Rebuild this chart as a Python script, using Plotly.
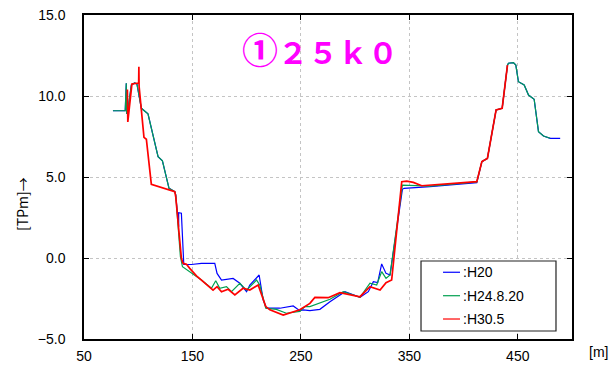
import plotly.graph_objects as go

# Cross-section survey profiles (distance [m] vs elevation [TPm])
h20_x = [76.7, 88.0, 89.0, 89.3, 90.5, 93.7, 96.7, 98.8, 102.9, 109.0, 118.3, 122.3,
         128.4, 133.7, 134.6, 137.3, 137.3, 139.8, 142.0, 149.0, 158.3, 170.6, 172.7,
         176.8, 187.5, 193.7, 199.9, 202.9, 211.5, 215.2, 218.3, 230.6, 242.9, 249.0,
         252.1, 258.3, 267.5, 276.8, 290.6, 304.5, 312.2, 316.8, 320.8, 324.5, 328.5,
         332.2, 343.6, 345.1, 369.1, 412.2, 416.9, 422.0, 430.0, 435.6, 440.5, 441.4,
         446.0, 448.2, 450.6, 455.9, 459.9, 465.1, 469.1, 473.7, 479.9, 489.1]
h20_y = [9.09, 9.09, 10.78, 8.9, 9.14, 10.68, 10.8, 10.74, 9.24, 8.9, 6.25, 6.0,
         4.3, 4.1, 3.9, 1.93, 2.8, 2.76, -0.39, -0.4, -0.33, -0.33, -0.95,
         -1.36, -1.26, -1.56, -2.08, -1.67, -1.05, -2.59, -3.1, -3.1, -2.96, -3.25,
         -3.2, -3.25, -3.17, -2.7, -2.08, -2.43, -2.08, -1.46, -1.52, -0.37, -0.95,
         -1.05, 4.24, 4.3, 4.4, 4.65, 5.95, 6.15, 9.14, 9.24, 11.9, 12.02,
         12.06, 11.91, 10.88, 10.68, 10.06, 9.8, 7.8, 7.53, 7.39, 7.39]

h24_x = [76.7, 88.0, 89.0, 89.3, 90.5, 93.7, 96.7, 98.8, 102.9, 109.0, 118.3, 122.3,
         128.4, 133.7, 134.6, 138.9, 140.8, 147.5, 156.7, 158.3, 167.5, 171.5, 175.2,
         181.4, 186.0, 193.7, 199.9, 209.1, 212.1, 217.6, 227.4, 236.6, 249.0, 253.7,
         258.3, 270.6, 276.8, 289.1, 304.5, 313.7, 319.9, 324.5, 328.5, 332.2, 343.6,
         369.1, 412.2, 416.9, 422.0, 430.0, 435.6, 440.5, 441.4, 446.0, 448.2, 450.6,
         455.9, 459.9, 465.1, 469.1, 473.7, 479.9]
h24_y = [9.09, 9.09, 10.78, 8.9, 9.14, 10.68, 10.8, 10.74, 9.24, 8.9, 6.25, 6.0,
         4.3, 4.1, 3.9, 0.08, -0.54, -0.85, -1.26, -1.36, -1.87, -1.4, -1.87,
         -1.77, -2.08, -1.56, -1.98, -1.36, -1.67, -3.1, -3.17, -3.41, -3.3, -3.0,
         -3.0, -2.7, -2.55, -2.08, -2.43, -1.56, -1.67, -0.84, -1.26, -1.05, 4.5,
         4.44, 4.7, 5.95, 6.15, 9.14, 9.24, 11.9, 12.02, 12.06, 11.91, 10.88,
         10.68, 10.06, 9.8, 7.8, 7.53, 7.39]

h30_x = [90.0, 90.4, 94.2, 98.8, 100.4, 100.6, 100.8, 105.3, 107.5, 112.1, 133.7,
         134.6, 136.7, 139.8, 141.3, 144.5, 147.5, 150.6, 153.7, 158.3, 166.6, 169.0,
         172.7, 176.8, 182.9, 189.1, 196.7, 202.9, 210.6, 217.6, 221.4, 233.7, 249.0,
         258.3, 262.9, 275.2, 286.0, 304.5, 313.7, 323.0, 328.5, 333.7, 343.0, 347.6,
         353.7, 361.4, 412.2, 416.9, 422.0, 430.0, 435.6, 440.5]
h30_y = [10.4, 8.4, 10.74, 10.8, 10.8, 11.8, 10.6, 7.45, 7.33, 4.55, 4.1,
         3.78, 2.35, -0.02, -0.33, -0.39, -0.64, -0.9, -1.1, -1.36, -1.87, -1.98,
         -1.77, -2.08, -1.93, -2.28, -1.87, -1.98, -1.67, -3.0, -3.2, -3.52, -3.2,
         -2.8, -2.43, -2.45, -2.14, -2.39, -1.77, -1.98, -1.52, -1.36, 4.71, 4.75,
         4.67, 4.46, 4.71, 5.95, 6.15, 9.14, 9.24, 11.9]

series_names = [":H20", ":H24.8.20", ":H30.5"]
series_colors = ["#0000ff", "#00a050", "#ff0000"]
series_widths = [1.2, 1.2, 1.7]

x_ticks = [50, 150, 250, 350, 450]
y_ticks = [-5, 0, 5, 10, 15]
title_mark = "①"
title_text = "２５ｋ０"

FONT = "Liberation Sans, Arial, sans-serif"
CJK = "Noto Sans CJK JP"

fig = go.Figure()
for xs, ys, name, col, w in zip([h20_x, h24_x, h30_x], [h20_y, h24_y, h30_y],
                                series_names, series_colors, series_widths):
    fig.add_trace(go.Scatter(x=xs, y=ys, mode="lines", name=name,
                             line=dict(color=col, width=w), showlegend=False))

axis_common = dict(showline=True, linecolor="black", linewidth=1.5, mirror="ticks",
                   ticks="inside", ticklen=5, tickcolor="black", tickwidth=1,
                   showgrid=True, gridcolor="#c4c4c4", griddash="dot", gridwidth=1,
                   zeroline=False, automargin=False,
                   tickfont=dict(family=FONT, size=14, color="black"))

fig.update_xaxes(range=[50, 500], tickmode="array", tickvals=x_ticks,
                 ticktext=[str(v) for v in x_ticks], ticklabelstandoff=3, **axis_common)
fig.update_yaxes(range=[-5, 15], tickmode="array", tickvals=y_ticks,
                 ticktext=[f"{v:.1f}".replace("-", "−") for v in y_ticks],
                 ticklabelstandoff=14, **axis_common)

# Custom legend box (paper coordinates)
lx0, lx1, ly0, ly1 = 0.6906, 0.9672, 0.0247, 0.2407
shapes = [dict(type="rect", xref="paper", yref="paper", x0=lx0, x1=lx1, y0=ly0, y1=ly1,
               line=dict(color="#222222", width=1.2), fillcolor="white", layer="above")]
annotations = []
row_y = [0.2060, 0.1336, 0.0617]
for name, col, ry in zip(series_names, series_colors, row_y):
    shapes.append(dict(type="line", xref="paper", yref="paper", x0=0.7357, x1=0.7705,
                       y0=ry, y1=ry, line=dict(color=col, width=1.2), layer="above"))
    annotations.append(dict(xref="paper", yref="paper", x=0.7725, y=ry, text=name,
                            showarrow=False, xanchor="left", yanchor="middle",
                            font=dict(family=FONT, size=14, color="black")))

annotations += [
    dict(xref="paper", yref="paper", x=0.484, y=1.0 - 33 / 324,
         text=f"<span style='font-size:36px'>{title_mark}</span>{title_text}",
         showarrow=False, xanchor="center", yanchor="middle",
         font=dict(family=CJK, size=30, color="#ff00ff", weight="bold")),
    dict(xref="paper", yref="paper", x=-62 / 488, y=(339 - 204) / 324,
         text="[TPm]→",
         showarrow=False, textangle=-90, xanchor="center", yanchor="middle",
         font=dict(family=CJK, size=14, color="black")),
    dict(xref="paper", yref="paper", x=(598 - 84) / 488, y=-13 / 324, text="[m]",
         showarrow=False, xanchor="center", yanchor="middle",
         font=dict(family=FONT, size=14, color="black")),
]

fig.update_layout(width=613, height=365, margin=dict(l=84, r=41, t=15, b=26),
                  paper_bgcolor="white", plot_bgcolor="white",
                  shapes=shapes, annotations=annotations, showlegend=False)

fig.write_html("out.html")
